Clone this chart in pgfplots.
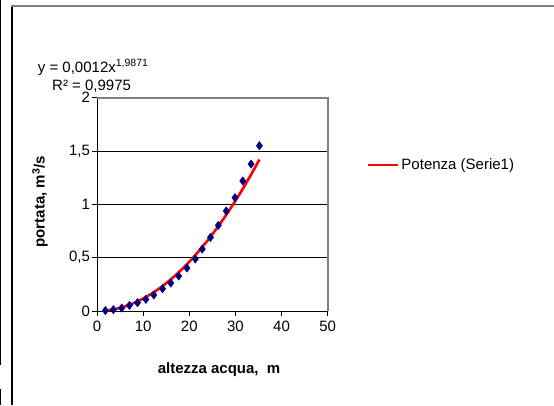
\documentclass[border=0pt]{standalone}
\usepackage{fontspec}
\setmainfont{Liberation Sans}
\usepackage{pgfplots}
\pgfplotsset{compat=1.18}
\usetikzlibrary{calc}
\definecolor{navy}{RGB}{0,0,128}
\definecolor{frgray}{RGB}{128,128,128}
\begin{document}
\begin{tikzpicture}[x=1pt,y=1pt]
\begin{axis}[
  scale only axis, width=230.7pt, height=213.3pt,
  xmin=0, xmax=50, ymin=0, ymax=2,
  xtick={0,10,20,30,40,50},
  ytick={0,0.5,1,1.5,2},
  axis x line*=bottom, axis y line*=left,
  axis line style={-, black, line width=0.8pt},
  tick align=outside, major tick length=4.5pt,
  tick style={black, line width=0.8pt},
  ymajorgrids, grid style={black, line width=0.8pt},
  /pgf/number format/assume math mode=true,
  /pgf/number format/use comma,
  ticklabel style={font=\fontsize{15}{18}\selectfont},
  xticklabel style={yshift=-2pt},
  yticklabel style={xshift=1pt},
  xlabel={\textbf{altezza acqua,\ \ m}},
  ylabel={\textbf{portata, m\textsuperscript{3}/s}},
  label style={font=\fontsize{15}{18}\selectfont},
  xlabel style={at={(axis description cs:0.529,-0.295)}, anchor=base},
  ylabel style={at={(axis description cs:-0.247,0.512)}, anchor=center},
  legend style={draw=none, fill=none, at={(axis description cs:1.169,0.684)}, anchor=west,
    inner sep=0pt, nodes={inner sep=2pt}, font=\fontsize{15}{18}\selectfont},
  legend cell align=left,
  legend image code/.code={\draw[#1] (0pt,0pt) -- (30pt,0pt);},
  clip=false,
]
\coordinate (O) at (rel axis cs:0,0);
\draw[frgray, line width=1.6pt] (rel axis cs:0,1) -- (rel axis cs:1,1) -- (rel axis cs:1,0);
\addplot[only marks, mark=diamond*, mark size=4.2pt, navy, mark options={fill=navy, draw=navy}, forget plot] coordinates {
(1.81,0.004) (3.55,0.0125) (5.36,0.028) (7.03,0.053) (8.77,0.078)
(10.58,0.109) (12.32,0.15) (14.2,0.209) (16.0,0.2625) (17.7,0.328)
(19.5,0.403) (21.3,0.4875) (22.8,0.581) (24.6,0.69) (26.3,0.803)
(28.0,0.9375) (29.9,1.0625) (31.6,1.219) (33.4,1.378) (35.2,1.55)
};
\addplot[red, line width=2.6pt, smooth] coordinates {
(1.8,0.00386) (4,0.01886) (6,0.0422) (8,0.0748) (10,0.1165) (12,0.1674)
(14,0.2273) (16,0.2964) (18,0.3746) (20,0.4618) (22,0.5581) (24,0.6634)
(26,0.7778) (28,0.9012) (30,1.0336) (32,1.1751) (34,1.3255) (35.2,1.4201)
};
\addlegendentry{Potenza (Serie1)}
\end{axis}
\begin{scope}[shift={($(O)+(-97,-94)$)}]
\draw[black, line width=1.3pt] (12,0) -- (12,399.5);
\draw[frgray, line width=2pt] (11.4,399) -- (554,399);
\fill[black] (0,40) rectangle (1.2,405);
\fill[black] (0,0) rectangle (1.2,16);
\node[anchor=base west, inner sep=0pt, font=\fontsize{15}{18}\selectfont] at (37.7,333) {y = 0,0012x\textsuperscript{1,9871}};
\node[anchor=base west, inner sep=0pt, font=\fontsize{15}{18}\selectfont] at (52,314.3) {R² = 0,9975};
\pgfresetboundingbox
\path[use as bounding box] (0,0) rectangle (554,405);
\end{scope}
\end{tikzpicture}
\end{document}
